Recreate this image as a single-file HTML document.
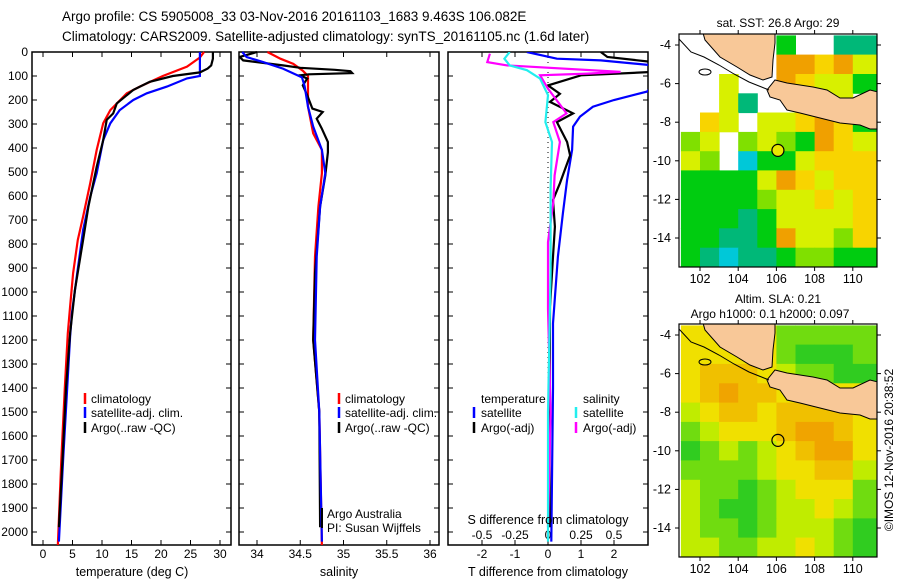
<!DOCTYPE html>
<html><head><meta charset="utf-8"><style>
body{margin:0;background:#fff;}
svg{display:block;font-family:"Liberation Sans",sans-serif;}
text{fill:#000;}
</style></head><body>
<svg id="c" width="900" height="580" viewBox="0 0 900 580">
<text x="62" y="21" font-size="13.5">Argo profile: CS 5905008_33 03-Nov-2016 20161103_1683 9.463S 106.082E</text>
<text x="62" y="41" font-size="13.5">Climatology: CARS2009. Satellite-adjusted climatology: synTS_20161105.nc (1.6d later)</text>
<defs>
<clipPath id="cp1"><rect x="32" y="38" width="199" height="507"/></clipPath>
<clipPath id="cp2"><rect x="239" y="38" width="200" height="507"/></clipPath>
<clipPath id="cp3"><rect x="448" y="52" width="200" height="493"/></clipPath>
<clipPath id="cm1"><rect x="679" y="34" width="198" height="233"/></clipPath>
<clipPath id="cm2"><rect x="679" y="324" width="198" height="233"/></clipPath>
</defs>
<g id="g1"></g>
<g id="g2"></g>
<g id="g3"></g>
<g id="m1"></g>
<g id="m2"></g>

<text x="132" y="576" font-size="12.5" text-anchor="middle">temperature (deg C)</text>
<text x="339" y="576" font-size="12.5" text-anchor="middle">salinity</text>
<text x="548" y="576" font-size="12.5" text-anchor="middle">T difference from climatology</text>
<text x="548" y="524" font-size="12.5" text-anchor="middle">S difference from climatology</text>

<g font-size="12">
<line x1="85" y1="393" x2="85" y2="404" stroke="#f00" stroke-width="2.5"/><text x="91" y="403">climatology</text>
<line x1="85" y1="407" x2="85" y2="418" stroke="#00f" stroke-width="2.5"/><text x="91" y="417">satellite-adj. clim.</text>
<line x1="85" y1="422" x2="85" y2="433" stroke="#000" stroke-width="2.5"/><text x="91" y="432">Argo(..raw -QC)</text>
</g>
<g font-size="12">
<line x1="339" y1="393" x2="339" y2="404" stroke="#f00" stroke-width="2.5"/><text x="345" y="403">climatology</text>
<line x1="339" y1="407" x2="339" y2="418" stroke="#00f" stroke-width="2.5"/><text x="345" y="417">satellite-adj. clim.</text>
<line x1="339" y1="422" x2="339" y2="433" stroke="#000" stroke-width="2.5"/><text x="345" y="432">Argo(..raw -QC)</text>
</g>
<g font-size="12">
<line x1="322" y1="508" x2="322" y2="528" stroke="#000" stroke-width="2"/>
<text x="327" y="518">Argo Australia</text><text x="327" y="532">PI: Susan Wijffels</text>
</g>
<g font-size="12">
<text x="481" y="403">temperature</text><text x="583" y="403">salinity</text>
<line x1="474" y1="407" x2="474" y2="418" stroke="#00f" stroke-width="2.5"/><text x="481" y="417">satellite</text>
<line x1="474" y1="422" x2="474" y2="433" stroke="#000" stroke-width="2.5"/><text x="481" y="432">Argo(-adj)</text>
<line x1="576" y1="407" x2="576" y2="418" stroke="#2ee" stroke-width="2.5"/><text x="583" y="417">satellite</text>
<line x1="576" y1="422" x2="576" y2="433" stroke="#f0f" stroke-width="2.5"/><text x="583" y="432">Argo(-adj)</text>
</g>
<text x="778" y="27" font-size="12" text-anchor="middle">sat. SST: 26.8 Argo: 29</text>
<text x="778" y="303" font-size="12" text-anchor="middle">Altim. SLA: 0.21</text>
<text x="770" y="318" font-size="12" text-anchor="middle">Argo h1000: 0.1 h2000: 0.097</text>
<text transform="translate(893,450) rotate(-90)" font-size="12" text-anchor="middle">©IMOS 12-Nov-2016 20:38:52</text>
</svg>
<script>
// ---- profile data ----
const tClimDepth=[0,23,61,100,144,172,242,297,408,547,686,783,922,1061,1172,1400,1700,2060];
const tClim=[27.3,26.6,24.4,20.3,16.4,14.2,11.4,10.2,9.1,8.0,6.8,5.9,5.1,4.6,4.2,3.7,3.1,2.5];
const tSatDepth=[0,100,110,144,172,200,242,297,367,505,603,742,922,1089,1186,1400,1700,2040];
const tSat=[26.6,26.6,24.4,21,17.6,15.3,13,11.4,10.2,9.1,8.0,6.8,5.8,4.9,4.6,4.1,3.4,2.7];
const tArgoDepth=[0,28,56,69,85,100,124,158,214,256,283,367,478,644,783,992,1172,1400,1700,1980];
const tArgo=[28.8,28.8,28.5,27.9,26.6,22,18.1,15.3,12.5,11.9,10.8,10.2,9.1,7.7,6.8,5.4,4.6,3.9,3.3,2.7];
const sClimDepth=[0,28,49,78,100,228,339,408,505,644,853,1200,1500,2060];
const sClim=[34.12,34.27,34.42,34.53,34.59,34.59,34.65,34.75,34.75,34.71,34.67,34.65,34.72,34.75];
const sSatDepth=[0,21,42,69,106,142,228,311,408,505,644,853,1200,1500,2040];
const sSat=[33.83,33.88,34.07,34.3,34.52,34.55,34.59,34.65,34.75,34.79,34.73,34.69,34.67,34.72,34.75];
const sArgoDepth=[0,21,35,56,66,74,80,88,93,97,111,139,180,236,250,278,320,375,418,515,644,922,1200,1500,1980];
const sArgo=[34.0,33.8,33.84,34.3,34.5,34.9,35.08,35.1,34.6,34.5,34.58,34.53,34.58,34.64,34.76,34.69,34.75,34.82,34.82,34.79,34.73,34.67,34.65,34.72,34.73];
const dTSatDepth=[0,28,35,56,100,165,200,228,269,311,408,533,672,853,1131,1400,2040];
const dTSat=[-0.64,0.27,1.6,3.2,3.5,3.0,2.0,1.36,0.97,0.76,0.73,0.58,0.45,0.3,0.15,0.15,0.1];
const dTArgoDepth=[0,21,42,83,97,139,174,208,256,292,375,431,547,617,728,853,1061,1500,1980];
const dTArgo=[1.6,1.8,3.2,3.2,1.0,0.0,0.36,0.06,0.76,0.27,0.58,0.67,0.36,0.15,0.21,0.15,0.06,0.05,0.05];
const dSSatDepth=[0,28,56,76,111,180,292,375,569,917,1500,2040];
const dSSat=[-0.29,-0.33,-0.29,-0.16,-0.06,0.0,-0.02,0.03,0.02,0.02,0.0,0.0];
const dSArgoDepth=[7,42,56,83,90,97,153,256,292,375,514,625,792,1070,1500,1980];
const dSArgo=[-0.44,-0.46,-0.31,0.55,0.3,-0.06,0.0,0.14,0.04,0.09,0.05,0.04,0.0,0.0,0.02,0.0];
const tTicks=[0,5,10,15,20,25,30];
const sTicks=[34,34.5,35,35.5,36];
const dTTicks=[-2,-1,0,1,2];
const dSTickLabels=["-0.5","-0.25","0","0.25","0.5"];
const dSTicks=[-0.5,-0.25,0,0.25,0.5];
const depthTicks=[0,100,200,300,400,500,600,700,800,900,1000,1100,1200,1300,1400,1500,1600,1700,1800,1900,2000];
// ---- map data ----
const sstRows=[
[-1,-1,-1,-1,-1,2,-1,-1,1,1,1],
[-1,-1,-1,-1,-1,6,6,5,6,4,4],
[-1,-1,4,-1,-1,6,5,4,4,2,2],
[-1,-1,4,1,-1,-1,-1,-1,4,-1,-1],
[-1,5,4,-1,4,4,5,6,5,2,2],
[3,4,-1,3,4,3,2,6,5,4,4],
[4,3,-1,0,2,2,4,5,5,5,5],
[2,2,2,2,4,6,5,4,5,5,5],
[2,2,2,2,3,4,4,5,4,5,5],
[2,2,2,1,2,4,4,4,4,5,5],
[2,2,1,1,2,6,4,4,3,5,5],
[2,1,0,1,1,2,3,3,2,2,2],
[2,1,0,1,1,2,3,3,2,2,2]];
const slaRows=[
[5,5,5,5,5,3,3,3,3,3,3],
[5,5,5,5,5,3,2,2,2,3,3],
[5,6,6,6,5,4,3,3,2,2,2],
[5,6,7,6,6,5,5,5,5,5,5],
[4,5,6,6,5,6,6,6,6,5,5],
[3,4,5,5,5,6,7,7,6,5,5],
[2,3,4,3,4,5,6,7,7,5,5],
[3,3,3,3,4,5,5,6,6,4,4],
[4,3,3,2,3,4,5,5,5,3,3],
[4,3,2,2,3,4,4,5,4,3,3],
[4,3,3,2,3,4,4,4,3,2,2],
[4,4,3,3,4,4,5,4,3,2,2],
[4,4,3,3,4,4,5,4,3,2,2]];
const mapLonTicks=[102,104,106,108,110];
const mapLatTicks=[-4,-6,-8,-10,-12,-14];
const argoLon=106.08, argoLat=-9.46;

const NS="http://www.w3.org/2000/svg";
function mk(tag,attrs,parent){const e=document.createElementNS(NS,tag);for(const k in attrs)e.setAttribute(k,attrs[k]);parent.appendChild(e);return e;}
const yD=d=>52+0.24*d;
const xT=v=>43+5.9*v, xS=v=>257+86.5*(v-34), xDT=v=>548+33*v, xDS=v=>548+132*v;

function panel(g,x0,x1,clip,ticks,xf,labels){
  mk('rect',{x:x0,y:52,width:x1-x0,height:493,fill:'none',stroke:'#000','stroke-width':1.5},g);
  depthTicks.forEach(d=>{const y=yD(d);
    mk('line',{x1:x0,y1:y,x2:x0+5,y2:y,stroke:'#000'},g);mk('line',{x1:x1-5,y1:y,x2:x1,y2:y,stroke:'#000'},g);});
  ticks.forEach((t,i)=>{const x=xf(t);
    mk('line',{x1:x,y1:52,x2:x,y2:57,stroke:'#000'},g);mk('line',{x1:x,y1:540,x2:x,y2:545,stroke:'#000'},g);
    if(labels){const tx=mk('text',{x:x,y:558,'font-size':12,'text-anchor':'middle'},g);tx.textContent=labels[i];
      }
  });
}
function line(g,clip,depths,vals,xf,color,name){
  const pts=depths.map((d,i)=>xf(vals[i]).toFixed(1)+','+yD(d).toFixed(1)).join(' ');
  const p=mk('polyline',{points:pts,fill:'none',stroke:color,'stroke-width':2.2,'clip-path':'url(#'+clip+')'},g);
  
  
}
const g1=document.getElementById('g1'),g2=document.getElementById('g2'),g3=document.getElementById('g3');
panel(g1,32,231,'cp1',tTicks,xT,tTicks.map(String));
depthTicks.forEach(d=>{const t=mk('text',{x:28,y:yD(d)+4,'font-size':12,'text-anchor':'end'},g1);t.textContent=d;
  });
panel(g2,239,439,'cp2',sTicks,xS,sTicks.map(String));
panel(g3,448,648,'cp3',dTTicks,xDT,dTTicks.map(String));
dSTicks.forEach((t,i)=>{const tx=mk('text',{x:xDS(t),y:539,'font-size':12,'text-anchor':'middle'},g3);tx.textContent=dSTickLabels[i];
  });
mk('line',{x1:xDT(0),y1:52,x2:xDT(0),y2:545,stroke:'#000','stroke-dasharray':'1,4'},g3);
line(g1,'cp1',tClimDepth,tClim,xT,'#f00','temp-climatology');
line(g1,'cp1',tSatDepth,tSat,xT,'#00f','temp-satellite-adj');
line(g1,'cp1',tArgoDepth,tArgo,xT,'#000','temp-argo');
line(g2,'cp2',sClimDepth,sClim,xS,'#f00','sal-climatology');
line(g2,'cp2',sArgoDepth,sArgo,xS,'#000','sal-argo');
line(g2,'cp2',sSatDepth,sSat,xS,'#00f','sal-satellite-adj');
line(g3,'cp3',dTSatDepth,dTSat,xDT,'#00f','tdiff-satellite');
line(g3,'cp3',dTArgoDepth,dTArgo,xDT,'#000','tdiff-argo');
line(g3,'cp3',dSArgoDepth,dSArgo,xDS,'#f0f','sdiff-argo');
line(g3,'cp3',dSSatDepth,dSSat,xDS,'#2ee','sdiff-satellite');

// ---- maps ----
const sstPal=['#00c8d8','#00b878','#00cc10','#80e000','#d8f000','#f8d400','#f0a000','#d86000'];
const slaPal=['#00c000','#10c020','#30cc20','#70dc10','#c0ec00','#f0e000','#f0c000','#f0a400'];
const mx=lon=>700+(lon-102)*19.1;
const sumatra=[[24,-1],[96,-1],[96,9],[94,26],[93,43],[84,46],[71,41],[58,33],[41,23],[26,6]];
const java=[[96,46],[108,49],[121,51],[134,53],[148,56],[161,64],[174,64],[191,56],[199,58],[199,95],[191,95],[181,91],[161,89],[141,84],[121,79],[108,76],[101,66],[91,63],[88,56]];
const coast=[[0,5],[12,18],[25,23],[40,31],[55,40],[70,48],[80,52],[90,56]];
function drawMap(id,rows,pal,off,clip,fillCircle){
  const g=document.getElementById(id);
  const my=lat=>45+off+(-4-lat)*19.3;
  const cg=mk('g',{'clip-path':'url(#'+clip+')'},g);
  mk('rect',{x:679,y:34+off,width:198,height:233,fill:'#fff'},cg);
  rows.forEach((r,j)=>r.forEach((v,i)=>{ if(v<0)return;
    const lat=-3.5-j, lon=101+i;
    const c=mk('rect',{x:mx(lon).toFixed(1),y:my(lat).toFixed(1),width:19.6,height:19.8,fill:pal[v]},cg);
    
    
  }));
  const tr='translate(679,'+(34+off)+')';
  const pf=a=>a.map(p=>p.join(',')).join(' ');
  mk('polygon',{points:pf(sumatra),fill:'#f8c898',stroke:'#000','stroke-width':1,transform:tr},cg);
  mk('polygon',{points:pf(java),fill:'#f8c898',stroke:'#000','stroke-width':1,transform:tr},cg);
  mk('polyline',{points:pf(coast),fill:'none',stroke:'#000','stroke-width':1,transform:tr},cg);
  mk('ellipse',{cx:26,cy:38,rx:6,ry:3,fill:'none',stroke:'#000',transform:tr},cg);
  mk('circle',{cx:mx(argoLon),cy:my(argoLat),r:6,fill:fillCircle?'#e8e800':'none',stroke:'#000','stroke-width':1.2},g);
  mk('rect',{x:679,y:34+off,width:198,height:233,fill:'none',stroke:'#000','stroke-width':1.2},g);
  mapLonTicks.forEach(l=>{const x=mx(l);
    mk('line',{x1:x,y1:34+off,x2:x,y2:30+off,stroke:'#000'},g);mk('line',{x1:x,y1:267+off,x2:x,y2:271+off,stroke:'#000'},g);
    const t=mk('text',{x:x,y:283+off,'font-size':12.5,'text-anchor':'middle'},g);t.textContent=l;
    });
  mapLatTicks.forEach(l=>{const y=my(l);
    mk('line',{x1:679,y1:y,x2:675,y2:y,stroke:'#000'},g);mk('line',{x1:877,y1:y,x2:881,y2:y,stroke:'#000'},g);
    const t=mk('text',{x:671,y:y+4,'font-size':12.5,'text-anchor':'end'},g);t.textContent=l;
    });
}
drawMap('m1',sstRows,sstPal,0,'cm1',true);
drawMap('m2',slaRows,slaPal,290,'cm2',false);
</script>
</body></html>
